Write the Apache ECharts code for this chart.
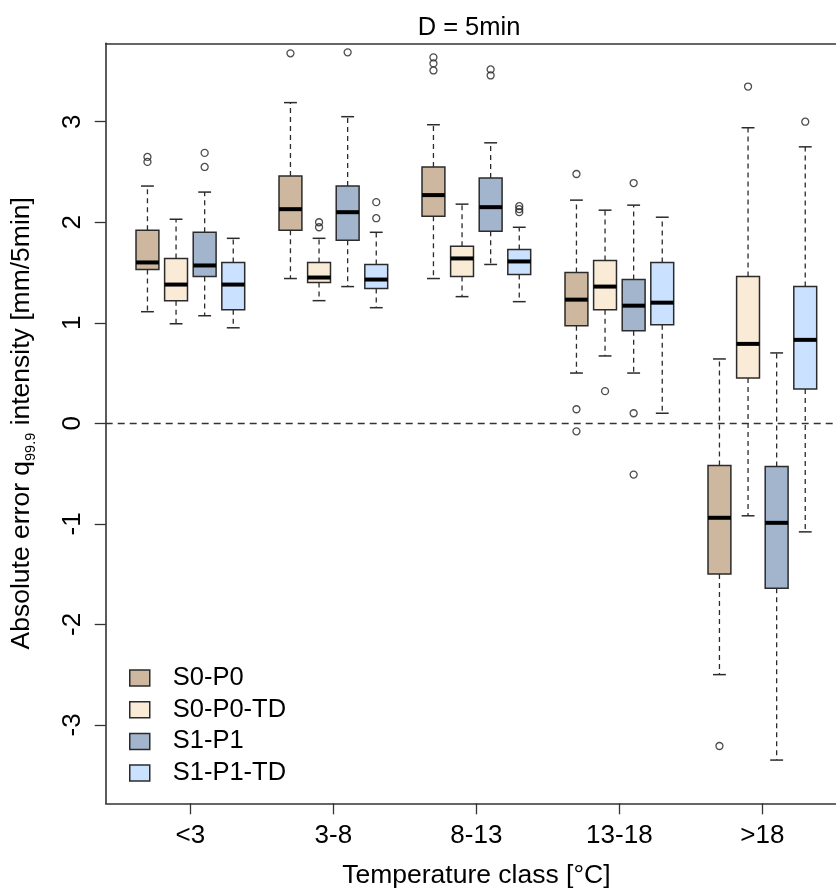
<!DOCTYPE html>
<html>
<head>
<meta charset="utf-8">
<script src="https://cdn.jsdelivr.net/npm/echarts@6/dist/echarts.min.js"></script>
<style>
html,body{margin:0;padding:0;background:#fff;}
#chart{width:836px;height:888px;}
</style>
</head>
<body>
<div id="chart"></div>
<script>
// ---- data ----
const categories = ['<3', '3-8', '8-13', '13-18', '>18'];
const seriesNames = ['S0-P0', 'S0-P0-TD', 'S1-P1', 'S1-P1-TD'];
const yTicks = [-3, -2, -1, 0, 1, 2, 3];

// [lower whisker, Q1, median, Q3, upper whisker] per temperature class
const statsS0P0 = [
  [1.11, 1.53, 1.60, 1.92, 2.36],
  [1.44, 1.92, 2.13, 2.46, 3.19],
  [1.44, 2.06, 2.27, 2.55, 2.97],
  [0.50, 0.97, 1.23, 1.50, 2.22],
  [-2.50, -1.50, -0.94, -0.42, 0.64]
];
const statsS0P0TD = [
  [0.99, 1.22, 1.38, 1.64, 2.03],
  [1.22, 1.40, 1.45, 1.60, 1.84],
  [1.26, 1.46, 1.64, 1.76, 2.18],
  [0.67, 1.13, 1.36, 1.62, 2.12],
  [-0.92, 0.45, 0.79, 1.46, 2.94]
];
const statsS1P1 = [
  [1.07, 1.46, 1.57, 1.90, 2.30],
  [1.36, 1.82, 2.10, 2.36, 3.05],
  [1.58, 1.91, 2.15, 2.44, 2.79],
  [0.50, 0.92, 1.17, 1.43, 2.17],
  [-3.35, -1.64, -0.99, -0.43, 0.70]
];
const statsS1P1TD = [
  [0.95, 1.13, 1.38, 1.60, 1.84],
  [1.15, 1.34, 1.43, 1.58, 1.90],
  [1.21, 1.48, 1.61, 1.73, 1.95],
  [0.10, 0.98, 1.20, 1.60, 2.05],
  [-1.08, 0.34, 0.83, 1.36, 2.75]
];

// outliers: [class index, value]
const outS0P0 = [[0, 2.65], [0, 2.60], [1, 3.68], [2, 3.64], [2, 3.58], [2, 3.51], [3, 2.48], [3, 0.14], [3, -0.08], [4, -3.21]];
const outS0P0TD = [[1, 2.00], [1, 1.95], [3, 0.32], [4, 3.35]];
const outS1P1 = [[0, 2.69], [0, 2.55], [1, 3.69], [2, 3.52], [2, 3.46], [3, 2.39], [3, 0.10], [3, -0.51]];
const outS1P1TD = [[1, 2.20], [1, 2.04], [2, 2.16], [2, 2.13], [2, 2.10], [4, 3.00]];

const colors = ['#CDB79E', '#FAEBD7', '#A2B5CD', '#CAE1FF'];
const allStats = [statsS0P0, statsS0P0TD, statsS1P1, statsS1P1TD];
const allOut = [outS0P0, outS0P0TD, outS1P1, outS1P1TD];

// ---- layout helpers ----
const FONT = "'Liberation Sans', Arial, sans-serif";
const BOX_W = 0.8, STAPLE_W = 0.45;
const pos = (g, s) => g * 5 + s + 1;
const groupCenters = categories.map((c, g) => g * 5 + 2.5);

function makeRender(color) {
  return function (params, api) {
    const x = api.value(0);
    const lo = api.coord([x, api.value(1)]);
    const q1 = api.coord([x, api.value(2)]);
    const md = api.coord([x, api.value(3)]);
    const q3 = api.coord([x, api.value(4)]);
    const hi = api.coord([x, api.value(5)]);
    const w = api.size([BOX_W, 0])[0];
    const sw = api.size([STAPLE_W, 0])[0];
    const cx = md[0];
    const wl = {stroke: '#2b2b2b', lineWidth: 1.3, lineDash: [5, 4]};
    const sl = {stroke: '#2b2b2b', lineWidth: 1.5};
    return {
      type: 'group',
      children: [
        {type: 'line', shape: {x1: cx, y1: q3[1], x2: cx, y2: hi[1]}, style: wl},
        {type: 'line', shape: {x1: cx, y1: q1[1], x2: cx, y2: lo[1]}, style: wl},
        {type: 'line', shape: {x1: cx - sw / 2, y1: hi[1], x2: cx + sw / 2, y2: hi[1]}, style: sl},
        {type: 'line', shape: {x1: cx - sw / 2, y1: lo[1], x2: cx + sw / 2, y2: lo[1]}, style: sl},
        {type: 'rect', shape: {x: cx - w / 2, y: q3[1], width: w, height: q1[1] - q3[1]},
          style: {fill: color, stroke: '#2b2b2b', lineWidth: 1.5}},
        {type: 'line', shape: {x1: cx - w / 2, y1: md[1], x2: cx + w / 2, y2: md[1]},
          style: {stroke: '#000', lineWidth: 4}}
      ]
    };
  };
}

const series = [];
seriesNames.forEach((name, s) => {
  series.push({
    name: name,
    type: 'custom',
    itemStyle: {color: colors[s]},
    renderItem: makeRender(colors[s]),
    encode: {x: 0, y: [1, 2, 3, 4, 5]},
    data: allStats[s].map((st, g) => [pos(g, s)].concat(st)),
    z: 3,
    markLine: s === 0 ? {
      silent: true, symbol: 'none', label: {show: false},
      lineStyle: {color: '#333', type: [7, 5], width: 1.3},
      data: [{yAxis: 0}], z: 1
    } : undefined
  });
  series.push({
    name: name + ' outliers',
    type: 'scatter',
    symbol: 'circle',
    symbolSize: 7,
    itemStyle: {color: 'rgba(0,0,0,0)', borderColor: '#222', borderWidth: 1.3},
    data: allOut[s].map(o => [pos(o[0], s), o[1]]),
    z: 4
  });
});

const chart = echarts.init(document.getElementById('chart'), null, {renderer: 'canvas'});
chart.setOption({
  animation: false,
  backgroundColor: '#fff',
  title: {
    text: 'D = 5min', left: 469, top: 15, textAlign: 'center', padding: 0,
    textStyle: {fontFamily: FONT, fontSize: 25.5, fontWeight: 'normal', color: '#000'}
  },
  legend: {
    orient: 'vertical', left: 129, top: 665, padding: 0,
    itemWidth: 20, itemHeight: 16, itemGap: 5.7,
    icon: 'rect',
    textStyle: {fontFamily: FONT, fontSize: 25.5, color: '#000', lineHeight: 26, padding: [0, 0, 0, 18]},
    data: seriesNames.map((n, i) => ({name: n, itemStyle: {color: colors[i], borderColor: '#2b2b2b', borderWidth: 1.5}}))
  },
  grid: {left: 105.7, top: 43.3, width: 741.3, height: 760, containLabel: false, outerBoundsMode: 'none'},
  xAxis: [{
    type: 'value', min: -0.46, max: 25.46,
    name: 'Temperature class [°C]', nameLocation: 'middle', nameGap: 59,
    nameTextStyle: {fontFamily: FONT, fontSize: 26.5, color: '#000'},
    splitLine: {show: false},
    axisLine: {show: true, onZero: false, lineStyle: {color: '#333', width: 1.6}},
    axisTick: {show: true, length: 11, inside: false, customValues: groupCenters, lineStyle: {color: '#333', width: 1.3}},
    axisLabel: {
      show: true, margin: 20, customValues: groupCenters,
      fontFamily: FONT, fontSize: 26, color: '#000',
      formatter: v => categories[Math.round((v - 2.5) / 5)]
    }
  }, {
    type: 'value', min: -0.46, max: 25.46, position: 'top',
    splitLine: {show: false},
    axisLine: {show: true, onZero: false, lineStyle: {color: '#333', width: 1.6}},
    axisTick: {show: false}, axisLabel: {show: false}
  }],
  yAxis: {
    type: 'value', min: -3.78, max: 3.78,
    name: 'Absolute error q{sub|99.9} intensity [mm/5min]',
    nameLocation: 'middle', nameGap: 67, nameRotate: 90,
    nameTextStyle: {
      fontFamily: FONT, fontSize: 26.5, color: '#000',
      rich: {sub: {fontFamily: FONT, fontSize: 14.5, color: '#000', padding: [20, 0, 0, 0]}}
    },
    splitLine: {show: false},
    axisLine: {show: true, onZero: false, lineStyle: {color: '#333', width: 1.6}},
    axisTick: {show: true, length: 11, inside: false, customValues: yTicks, lineStyle: {color: '#333', width: 1.3}},
    axisLabel: {
      show: true, rotate: 90, margin: 20, customValues: yTicks,
      fontFamily: FONT, fontSize: 26, color: '#000'
    }
  },
  series: series
});
</script>
</body>
</html>
